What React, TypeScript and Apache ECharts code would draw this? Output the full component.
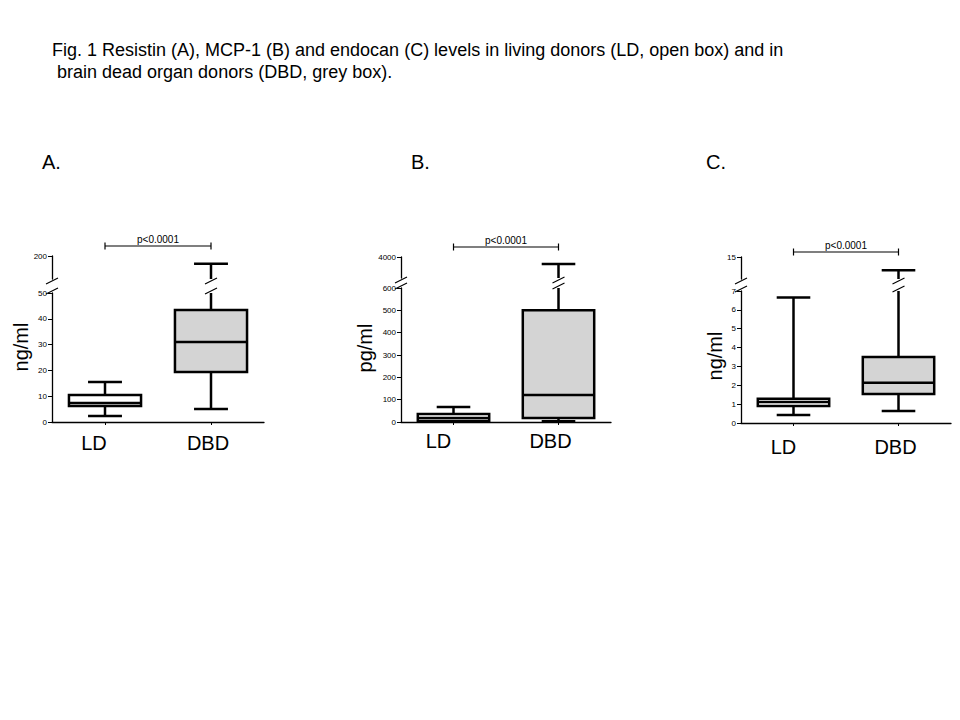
import React, { useEffect, useRef } from 'react';
import * as echarts from 'echarts';

// ---------- data ----------
const categories = ['LD', 'DBD'];
// box statistics: [min, Q1, median, Q3, max]
const resistinLD = [2.3, 6.2, 7.4, 10.5, 15.5];
const resistinDBD = [5.0, 19.4, 31.0, 43.4, 183];
const mcp1LD = [2, 5, 18, 36, 67];
const mcp1DBD = [3, 18, 121, 500, 3670];
const endocanLD = [0.43, 0.9, 1.12, 1.28, 6.65];
const endocanDBD = [0.64, 1.54, 2.13, 3.5, 12.0];

// tick labels (lower segment below the axis break, upper segment above it)
const resistinLowerTicks = [0, 10, 20, 30, 40, 50];
const resistinUpperRange = [150, 200];
const resistinUpperTicks = [200];
const mcp1LowerTicks = [0, 100, 200, 300, 400, 500, 600];
const mcp1UpperRange = [3000, 4000];
const mcp1UpperTicks = [4000];
const endocanLowerTicks = [0, 1, 2, 3, 4, 5, 6, 7];
const endocanUpperRange = [10, 15];
const endocanUpperTicks = [15];

const yTitles = ['ng/ml', 'pg/ml', 'ng/ml'];
const panelLetters = ['A.', 'B.', 'C.'];
const pValueText = 'p<0.0001';
const figureTitle =
  'Fig. 1 Resistin (A), MCP-1 (B) and endocan (C) levels in living donors (LD, open box) and in\n brain dead organ donors (DBD, grey box).';

// ---------- styles / layout ----------
const FONT = '"Liberation Sans", Arial, sans-serif';
const boxFills = ['#ffffff', '#d4d4d4'];
const LW = 2.5;
const AXIS_LW = 1.3;
const BOX_RATIO = 0.68;
const CAP_RATIO = 0.32;

const layouts = [
  { left: 52, width: 212, lowerTop: 293, lowerBottom: 422, upperTop: 256, upperBottom: 279, bracketGap: 10, labelMargin: 11, labelShift: [-11, -3], titleX: 21, titleY: 347, letterX: 42 },
  { left: 401, width: 210, lowerTop: 288, lowerBottom: 422, upperTop: 257, upperBottom: 278, bracketGap: 10, labelMargin: 9, labelShift: [-15, -8], titleX: 365, titleY: 348, letterX: 411 },
  { left: 741, width: 210, lowerTop: 291, lowerBottom: 423, upperTop: 257, upperBottom: 279, bracketGap: 5, labelMargin: 14, labelShift: [-10, -3], titleX: 715, titleY: 356, letterX: 706 },
];

const panelsData = [
  { ld: resistinLD, dbd: resistinDBD, lower: resistinLowerTicks, upperRange: resistinUpperRange, upperTicks: resistinUpperTicks },
  { ld: mcp1LD, dbd: mcp1DBD, lower: mcp1LowerTicks, upperRange: mcp1UpperRange, upperTicks: mcp1UpperTicks },
  { ld: endocanLD, dbd: endocanDBD, lower: endocanLowerTicks, upperRange: endocanUpperRange, upperTicks: endocanUpperTicks },
];

const lineStyle = { stroke: '#000', lineWidth: LW };

function slash(x: number, y: number) {
  return {
    type: 'line',
    shape: { x1: x - 6, y1: y + 3, x2: x + 6, y2: y - 3 },
    style: { stroke: '#000', lineWidth: 1.2 },
  };
}

function makeLowerRender(lowerMax: number) {
  return (params: any, api: any) => {
    const i = api.value(0);
    const mn = api.value(1);
    const q1 = api.value(2);
    const md = api.value(3);
    const q3 = api.value(4);
    const mx = api.value(5);
    const cx = api.coord([i, 0])[0];
    const band = api.size([1, 0])[0];
    const bw = band * BOX_RATIO;
    const cw = band * CAP_RATIO;
    const y = (v: number) => api.coord([i, v])[1];
    const broken = mx > lowerMax;
    const yTop = y(Math.min(mx, lowerMax));
    const children: any[] = [];
    children.push({ type: 'line', shape: { x1: cx, y1: y(q3), x2: cx, y2: yTop }, style: lineStyle });
    children.push({ type: 'line', shape: { x1: cx, y1: y(q1), x2: cx, y2: y(mn) }, style: lineStyle });
    children.push({ type: 'line', shape: { x1: cx - cw / 2, y1: y(mn), x2: cx + cw / 2, y2: y(mn) }, style: lineStyle });
    if (!broken) {
      children.push({ type: 'line', shape: { x1: cx - cw / 2, y1: yTop, x2: cx + cw / 2, y2: yTop }, style: lineStyle });
    } else {
      children.push(slash(cx, yTop - 2));
    }
    children.push({
      type: 'rect',
      shape: { x: cx - bw / 2, y: y(q3), width: bw, height: y(q1) - y(q3) },
      style: { fill: boxFills[i], stroke: '#000', lineWidth: LW },
    });
    children.push({ type: 'line', shape: { x1: cx - bw / 2, y1: y(md), x2: cx + bw / 2, y2: y(md) }, style: lineStyle });
    if (i === 0) {
      const cs = params.coordSys;
      children.push(slash(cs.x, cs.y - 2));
    }
    return { type: 'group', children };
  };
}

function makeUpperRender(upperMin: number, upperMax: number, bracketGap: number) {
  return (params: any, api: any) => {
    const i = api.value(0);
    const mx = api.value(5);
    const cs = params.coordSys;
    const bottom = cs.y + cs.height;
    const cx = api.coord([i, upperMax])[0];
    const band = api.size([1, 0])[0];
    const cw = band * CAP_RATIO;
    const children: any[] = [];
    if (mx > upperMin) {
      const yMax = api.coord([i, mx])[1];
      children.push({ type: 'line', shape: { x1: cx, y1: bottom, x2: cx, y2: yMax }, style: lineStyle });
      children.push({ type: 'line', shape: { x1: cx - cw / 2, y1: yMax, x2: cx + cw / 2, y2: yMax }, style: lineStyle });
      children.push(slash(cx, bottom + 2));
    }
    if (i === 0) {
      children.push(slash(cs.x, bottom + 2));
      const x0 = api.coord([0, upperMax])[0];
      const x1 = api.coord([1, upperMax])[0];
      const yb = cs.y - bracketGap;
      const bs = { stroke: '#000', lineWidth: 1.2 };
      children.push({ type: 'line', shape: { x1: x0, y1: yb, x2: x1, y2: yb }, style: bs });
      children.push({ type: 'line', shape: { x1: x0, y1: yb - 3.5, x2: x0, y2: yb + 3.5 }, style: bs });
      children.push({ type: 'line', shape: { x1: x1, y1: yb - 3.5, x2: x1, y2: yb + 3.5 }, style: bs });
      children.push({
        type: 'text',
        x: (x0 + x1) / 2,
        y: yb - 2,
        style: {
          text: pValueText,
          fill: '#000',
          font: '10px ' + FONT,
          textAlign: 'center',
          align: 'center',
          textVerticalAlign: 'bottom',
          verticalAlign: 'bottom',
        },
      });
    }
    return { type: 'group', children };
  };
}

function buildOption() {
  const grid: any[] = [];
  const xAxis: any[] = [];
  const yAxis: any[] = [];
  const series: any[] = [];
  const graphic: any[] = [];
  const titles: any[] = [
    {
      text: figureTitle,
      left: 52,
      top: 39,
      padding: 0,
      textStyle: { fontFamily: FONT, fontSize: 18, fontWeight: 'normal', color: '#000', lineHeight: 22 },
    },
  ];

  panelsData.forEach((pd, p) => {
    const L = layouts[p];
    const lowerMax = pd.lower[pd.lower.length - 1];
    const step = pd.lower[1] - pd.lower[0];
    grid.push({ left: L.left, top: L.lowerTop, width: L.width, height: L.lowerBottom - L.lowerTop });
    grid.push({ left: L.left, top: L.upperTop, width: L.width, height: L.upperBottom - L.upperTop });

    const rich: any = {};
    L.labelShift.forEach((s, k) => {
      rich['l' + k] = {
        fontSize: 20,
        fontFamily: FONT,
        color: '#000',
        padding: s < 0 ? [0, -2 * s, 0, 0] : [0, 0, 0, 2 * s],
      };
    });

    xAxis.push({
      type: 'category',
      gridIndex: 2 * p,
      data: categories,
      boundaryGap: true,
      axisLine: { show: true, lineStyle: { color: '#000', width: AXIS_LW } },
      axisTick: { show: true, alignWithLabel: true, length: 3, lineStyle: { color: '#000', width: 1 } },
      axisLabel: {
        margin: L.labelMargin,
        formatter: (v: string, idx: number) => `{l${idx}|${v}}`,
        rich,
      },
      splitLine: { show: false },
    });
    xAxis.push({ type: 'category', gridIndex: 2 * p + 1, data: categories, boundaryGap: true, show: false });

    const yLabel = { fontSize: 8, fontFamily: FONT, color: '#000', margin: 5, formatter: (v: number) => String(v) };
    yAxis.push({
      type: 'value',
      gridIndex: 2 * p,
      min: pd.lower[0],
      max: lowerMax,
      interval: step,
      axisLine: { show: true, lineStyle: { color: '#000', width: AXIS_LW } },
      axisTick: { show: true, length: 4, lineStyle: { color: '#000', width: 1 } },
      axisLabel: yLabel,
      splitLine: { show: false },
    });
    yAxis.push({
      type: 'value',
      gridIndex: 2 * p + 1,
      min: pd.upperRange[0],
      max: pd.upperRange[1],
      interval: pd.upperRange[1] - pd.upperRange[0],
      axisLine: { show: true, lineStyle: { color: '#000', width: AXIS_LW } },
      axisTick: { show: true, length: 4, customValues: pd.upperTicks, lineStyle: { color: '#000', width: 1 } },
      axisLabel: { ...yLabel, customValues: pd.upperTicks },
      splitLine: { show: false },
    });

    const data = [
      [0, ...pd.ld],
      [1, ...pd.dbd],
    ];
    series.push({
      type: 'custom',
      xAxisIndex: 2 * p,
      yAxisIndex: 2 * p,
      data,
      encode: { x: 0, y: [1, 2, 3, 4, 5] },
      renderItem: makeLowerRender(lowerMax),
      z: 5,
    });
    series.push({
      type: 'custom',
      xAxisIndex: 2 * p + 1,
      yAxisIndex: 2 * p + 1,
      data,
      encode: { x: 0, y: [1, 2, 3, 4, 5] },
      renderItem: makeUpperRender(pd.upperRange[0], pd.upperRange[1], L.bracketGap),
      z: 5,
    });

    graphic.push({
      type: 'text',
      x: L.titleX,
      y: L.titleY,
      rotation: Math.PI / 2,
      style: {
        text: yTitles[p],
        font: '20px ' + FONT,
        fill: '#000',
        textAlign: 'center',
        textVerticalAlign: 'middle',
      },
    });

    titles.push({
      text: panelLetters[p],
      left: L.letterX,
      top: 152,
      padding: 0,
      textStyle: { fontFamily: FONT, fontSize: 20, fontWeight: 'normal', color: '#000' },
    });
  });

  return {
    animation: false,
    backgroundColor: '#ffffff',
    title: titles,
    grid,
    xAxis,
    yAxis,
    series,
    graphic,
  };
}

export default function App() {
  const ref = useRef<HTMLDivElement>(null);
  useEffect(() => {
    if (!ref.current) return;
    const chart = echarts.init(ref.current, undefined, { renderer: 'svg' });
    chart.setOption(buildOption() as any);
    return () => chart.dispose();
  }, []);
  return (
    <div
      ref={ref}
      style={{ position: 'fixed', left: 0, top: 0, width: 960, height: 720, background: '#fff' }}
    />
  );
}
